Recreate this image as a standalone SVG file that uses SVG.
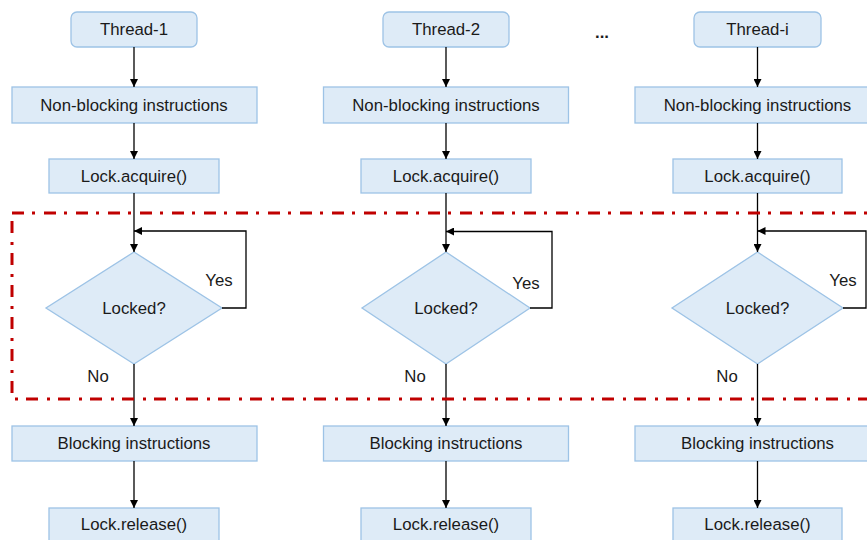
<svg xmlns="http://www.w3.org/2000/svg" width="867" height="540" viewBox="0 0 867 540">
<defs>
<style>
.box{fill:#DEEBF7;stroke:#9DC3E6;stroke-width:1.3}
.dia{fill:#DEEBF7;stroke:#9DC3E6;stroke-width:1.3}
.t{font-family:"Liberation Sans",Arial,sans-serif;font-size:16.8px;fill:#1a1a1a;text-anchor:middle;dominant-baseline:central}
.lab{font-family:"Liberation Sans",Arial,sans-serif;font-size:16.8px;fill:#1a1a1a;text-anchor:middle;dominant-baseline:central}
.c{fill:none;stroke:#000;stroke-width:1.3}
.frame{fill:none;stroke:#C00000;stroke-width:3;stroke-dasharray:12 8 3 9}
</style>
<marker id="ah" viewBox="0 0 10 10" refX="10" refY="5" markerWidth="8" markerHeight="8" markerUnits="userSpaceOnUse" orient="auto">
<path d="M0,0 L10,5 L0,10 z" fill="#000"/>
</marker>
</defs>
<rect width="867" height="540" fill="#fff"/>

<g id="col1">
<g id="thread1"><rect class="box" x="71" y="12" width="126" height="35" rx="6"/><text class="t" x="134" y="29.5">Thread-1</text></g>
<g id="nb1"><rect class="box" x="12" y="87" width="245" height="36"/><text class="t" x="134" y="105">Non-blocking instructions</text></g>
<g id="acq1"><rect class="box" x="49" y="159" width="170" height="34"/><text class="t" x="134" y="176">Lock.acquire()</text></g>
<g id="dec1"><polygon class="dia" points="134,252 222,308 134,364 46,308"/><text class="t" x="134" y="308">Locked?</text></g>
<g id="blk1"><rect class="box" x="12" y="426" width="245" height="35"/><text class="t" x="134" y="443.5">Blocking instructions</text></g>
<g id="rel1"><rect class="box" x="49" y="508" width="170" height="34"/><text class="t" x="134" y="524">Lock.release()</text></g>
</g>

<g id="col2">
<g id="thread2"><rect class="box" x="383" y="12" width="126" height="35" rx="6"/><text class="t" x="446" y="29.5">Thread-2</text></g>
<g id="nb2"><rect class="box" x="323.5" y="87" width="245" height="36"/><text class="t" x="446" y="105">Non-blocking instructions</text></g>
<g id="acq2"><rect class="box" x="361" y="159" width="170" height="34"/><text class="t" x="446" y="176">Lock.acquire()</text></g>
<g id="dec2"><polygon class="dia" points="446,252 530,308 446,364 362,308"/><text class="t" x="446" y="308">Locked?</text></g>
<g id="blk2"><rect class="box" x="323.5" y="426" width="245" height="35"/><text class="t" x="446" y="443.5">Blocking instructions</text></g>
<g id="rel2"><rect class="box" x="361" y="508" width="170" height="34"/><text class="t" x="446" y="524">Lock.release()</text></g>
</g>

<g id="col3">
<g id="threadi"><rect class="box" x="694" y="12" width="127" height="35" rx="6"/><text class="t" x="757.5" y="29.5">Thread-i</text></g>
<g id="nb3"><rect class="box" x="635" y="87" width="245" height="36"/><text class="t" x="757.5" y="105">Non-blocking instructions</text></g>
<g id="acq3"><rect class="box" x="673" y="159" width="169" height="34"/><text class="t" x="757.5" y="176">Lock.acquire()</text></g>
<g id="dec3"><polygon class="dia" points="757.5,252 843,308 757.5,364 672,308"/><text class="t" x="757.5" y="308">Locked?</text></g>
<g id="blk3"><rect class="box" x="635" y="426" width="245" height="35"/><text class="t" x="757.5" y="443.5">Blocking instructions</text></g>
<g id="rel3"><rect class="box" x="673" y="508" width="169" height="34"/><text class="t" x="757.5" y="524">Lock.release()</text></g>
</g>

<g id="dots"><text class="t" x="602" y="32" style="font-weight:bold">...</text></g>

<g id="connectors">
<line class="c" x1="134" y1="47" x2="134" y2="87" marker-end="url(#ah)"/>
<line class="c" x1="134" y1="123" x2="134" y2="159" marker-end="url(#ah)"/>
<line class="c" x1="134" y1="193" x2="134" y2="252" marker-end="url(#ah)"/>
<polyline class="c" points="222,308 246,308 246,231 134,231" marker-end="url(#ah)"/>
<line class="c" x1="134" y1="364" x2="134" y2="426" marker-end="url(#ah)"/>
<line class="c" x1="134" y1="461" x2="134" y2="508" marker-end="url(#ah)"/>

<line class="c" x1="446" y1="47" x2="446" y2="87" marker-end="url(#ah)"/>
<line class="c" x1="446" y1="123" x2="446" y2="159" marker-end="url(#ah)"/>
<line class="c" x1="446" y1="193" x2="446" y2="252" marker-end="url(#ah)"/>
<polyline class="c" points="530,308 552,308 552,231.5 446,231.5" marker-end="url(#ah)"/>
<line class="c" x1="446" y1="364" x2="446" y2="426" marker-end="url(#ah)"/>
<line class="c" x1="446" y1="461" x2="446" y2="508" marker-end="url(#ah)"/>

<line class="c" x1="757.5" y1="47" x2="757.5" y2="87" marker-end="url(#ah)"/>
<line class="c" x1="757.5" y1="123" x2="757.5" y2="159" marker-end="url(#ah)"/>
<line class="c" x1="757.5" y1="193" x2="757.5" y2="252" marker-end="url(#ah)"/>
<polyline class="c" points="843,308 866,308 866,231 757.5,231" marker-end="url(#ah)"/>
<line class="c" x1="757.5" y1="364" x2="757.5" y2="426" marker-end="url(#ah)"/>
<line class="c" x1="757.5" y1="461" x2="757.5" y2="508" marker-end="url(#ah)"/>

<text class="lab" x="219" y="280">Yes</text>
<text class="lab" x="526" y="283">Yes</text>
<text class="lab" x="843" y="280">Yes</text>
<text class="lab" x="98" y="376">No</text>
<text class="lab" x="415" y="376">No</text>
<text class="lab" x="727" y="376">No</text>
</g>

<g id="critical-section">
<rect class="frame" x="12" y="213" width="880" height="186"/>
</g>
</svg>
